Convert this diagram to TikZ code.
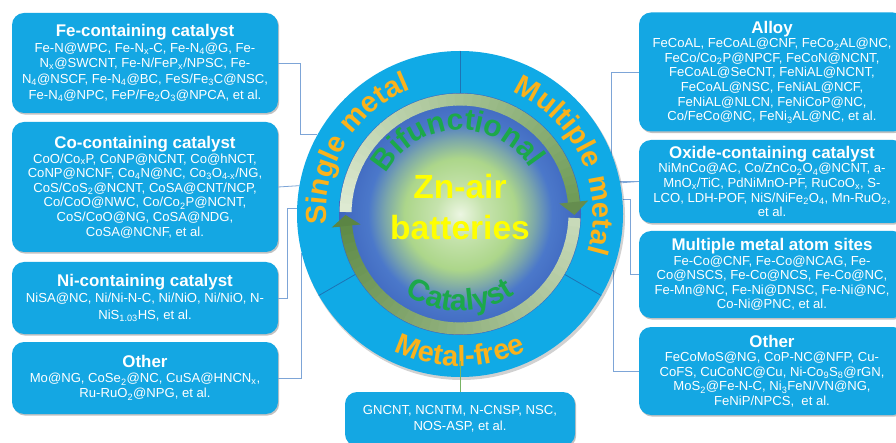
\documentclass[tikz,border=0pt]{standalone}
\usepackage{fontspec}
\setmainfont{Liberation Sans}
\usetikzlibrary{shadows,decorations.text,calc}
\definecolor{boxcyan}{RGB}{20,167,227}
\definecolor{ringcyan}{RGB}{16,170,230}
\definecolor{ringline}{RGB}{30,115,180}
\definecolor{connc}{RGB}{125,165,215}
\definecolor{ringorange}{RGB}{250,178,28}
\definecolor{txtgreen}{RGB}{28,168,74}
\definecolor{znyellow}{RGB}{255,255,0}
\definecolor{sphereblue}{RGB}{75,120,202}
\definecolor{sphereedge}{RGB}{62,102,190}
\definecolor{glowc}{RGB}{236,246,226}
\definecolor{glowm}{RGB}{172,214,138}
\colorlet{glowa}{glowm!60!glowc}
\colorlet{glowb}{glowm!50!sphereblue}
\definecolor{aglight}{RGB}{222,234,210}
\definecolor{agdark}{RGB}{112,156,88}
\definecolor{bglight}{RGB}{200,218,185}
\definecolor{bgdark}{RGB}{96,140,72}
\definecolor{bgreen}{RGB}{120,180,100}
\pgfdeclareradialshading{sphere}{\pgfpoint{0bp}{0bp}}{color(0bp)=(glowc); color(5bp)=(glowa); color(11.5bp)=(glowm); color(15.5bp)=(glowb); color(19bp)=(sphereblue); color(25bp)=(sphereedge); color(50bp)=(sphereedge)}
\newcommand\ttl[1]{{\fontsize{16.9}{16.9}\selectfont\bfseries #1}}
\newcommand\sub[1]{\textsubscript{#1}}
\newcommand\fmtorange{\fontsize{29}{29}\selectfont\bfseries\color{ringorange}}
\newcommand\fmtgreen{\fontsize{30}{30}\selectfont\bfseries\color{txtgreen}}
\newcommand\arctext[5]{\path[decorate,decoration={text along path,text align=center,text={|#4|#5}}] (#1:#3) arc[start angle=#1,end angle=#2,radius=#3];}
\tikzset{
  catbox/.style={rounded corners=12pt, fill=boxcyan, text=white, align=center, inner sep=0pt,
    minimum width=266pt, drop shadow={shadow xshift=1.2pt, shadow yshift=-1.6pt, opacity=0.4, fill=black!60},
    font=\fontsize{13.1}{14.6}\selectfont},
  connline/.style={draw=connc, line width=0.8pt},
  greenline/.style={draw=bgreen, line width=1pt},
}
\begin{document}
\begin{tikzpicture}[x=1pt,y=1pt]
\useasboundingbox (0,0) rectangle (896,-443);
\fill[white] (0,0) rectangle (896,-443);

% ---------- left boxes
\node[catbox, minimum height=100pt, font=\fontsize{13.1}{15.7}\selectfont] (fe) at (145,-63)
 {\ttl{Fe-containing catalyst}\\
  Fe-N@WPC, Fe-N\sub{x}-C, Fe-N\sub{4}@G, Fe-\\
  N\sub{x}@SWCNT, Fe-N/FeP\sub{x}/NPSC, Fe-\\
  N\sub{4}@NSCF, Fe-N\sub{4}@BC, FeS/Fe\sub{3}C@NSC,\\
  Fe-N\sub{4}@NPC, FeP/Fe\sub{2}O\sub{3}@NPCA, et al.};
\node[catbox, minimum height=130pt] (co) at (145,-187)
 {\ttl{Co-containing catalyst}\\
  CoO/Co\sub{x}P, CoNP@NCNT, Co@hNCT,\\
  CoNP@NCNF, Co\sub{4}N@NC, Co\sub{3}O\sub{4-x}/NG,\\
  CoS/CoS\sub{2}@NCNT, CoSA@CNT/NCP,\\
  Co/CoO@NWC, Co/Co\sub{2}P@NCNT,\\
  CoS/CoO@NG, CoSA@NDG,\\
  CoSA@NCNF, et al.};
\node[catbox, minimum height=72pt, font=\fontsize{13.1}{16.5}\selectfont] (ni) at (145,-298)
 {\ttl{Ni-containing catalyst}\\
  NiSA@NC, Ni/Ni-N-C, Ni/NiO, Ni/NiO, N-\\
  NiS\sub{1.03}HS, et al.};
\node[catbox, minimum height=72pt, font=\fontsize{13.1}{15}\selectfont] (otl) at (145,-378)
 {\ttl{Other}\\
  Mo@NG, CoSe\sub{2}@NC, CuSA@HNCN\sub{x},\\
  Ru-RuO\sub{2}@NPG, et al.};

% ---------- right boxes
\node[catbox, minimum height=119pt] (alloy) at (772,-72)
 {\ttl{Alloy}\\
  FeCoAL, FeCoAL@CNF, FeCo\sub{2}AL@NC,\\
  FeCo/Co\sub{2}P@NPCF, FeCoN@NCNT,\\
  FeCoAL@SeCNT, FeNiAL@NCNT,\\
  FeCoAL@NSC, FeNiAL@NCF,\\
  FeNiAL@NLCN, FeNiCoP@NC,\\
  Co/FeCo@NC, FeNi\sub{3}AL@NC, et al.};
\node[catbox, minimum height=83pt] (oxide) at (772,-181.5)
 {\ttl{Oxide-containing catalyst}\\
  NiMnCo@AC, Co/ZnCo\sub{2}O\sub{4}@NCNT, a-\\
  MnO\sub{x}/TiC, PdNiMnO-PF, RuCoO\sub{x}, S-\\
  LCO, LDH-POF, NiS/NiFe\sub{2}O\sub{4}, Mn-RuO\sub{2},\\
  et al.};
\node[catbox, minimum height=87pt] (ms) at (772,-274.5)
 {\ttl{Multiple metal atom sites}\\
  Fe-Co@CNF, Fe-Co@NCAG, Fe-\\
  Co@NSCS, Fe-Co@NCS, Fe-Co@NC,\\
  Fe-Mn@NC, Fe-Ni@DNSC, Fe-Ni@NC,\\
  Co-Ni@PNC, et al.};
\node[catbox, minimum height=88pt] (otr) at (772,-371)
 {\ttl{Other}\\
  FeCoMoS@NG, CoP-NC@NFP, Cu-\\
  CoFS, CuCoNC@Cu, Ni-Co\sub{9}S\sub{8}@rGN,\\
  MoS\sub{2}@Fe-N-C, Ni\sub{3}FeN/VN@NG,\\
  FeNiP/NPCS,\ \ et al.};

% ---------- bottom box
\node[catbox, minimum width=230pt, minimum height=54pt, font=\fontsize{13.1}{16}\selectfont] (mf) at (460,-419)
 {GNCNT, NCNTM, N-CNSP, NSC,\\NOS-ASP, et al.};

% ---------- ring outline (for connector anchors)
\node[circle, inner sep=0pt, minimum size=326pt] (ring) at (460,-214) {};

% ---------- connectors (drawn under the ring)
\draw[connline] (fe.east) -- ++(22pt,0) |- (ring.151.8);
\draw[connline] (co.east) -- (ring.170.5);
\draw[connline] (ni.east) -- ++(9pt,0) |- (ring.178.6);
\draw[connline] (otl.east) -| (ring.194.2);
\draw[connline] (alloy.west) -- ++(-27pt,0) |- (oxide.west);
\draw[connline] (ring.11.5) -- (oxide.west);
\draw[connline] (ms.west) -- ++(-8pt,0) |- (ring.5.6);
\draw[connline] (otr.west) -| (ring.-20.2);

% ---------- central circle
\begin{scope}[shift={(460,-214)}]
  \fill[black, opacity=0.18] (1.5pt,-2.5pt) circle[radius=163.5pt];
  \fill[ringcyan] (0,0) circle[radius=163pt];
  \shade[shading=sphere] (0,0) circle[radius=121pt];
  \foreach \a in {90,210,330}
    \draw[ringline, line width=0.8pt] (\a:121pt) -- (\a:163pt);
  % upper arrow (left -> right)
  \foreach \i in {0,...,39}{
    \pgfmathsetmacro\aa{179-\i*4.325}
    \pgfmathsetmacro\ab{\aa-4.7}
    \pgfmathsetmacro\pc{\i*100/39}
    \draw[line width=12pt, color=agdark!\pc!aglight] (\aa:114.5pt) arc[start angle=\aa, end angle=\ab, radius=114.5pt];
  }
  \fill[agdark!90!black] (6:100pt) -- (6:129pt) -- (-0.5:114.5pt) -- cycle;
  % lower arrow (right -> left)
  \foreach \i in {0,...,39}{
    \pgfmathsetmacro\aa{-2-\i*4.3}
    \pgfmathsetmacro\ab{\aa-4.7}
    \pgfmathsetmacro\pc{\i*100/39}
    \draw[line width=12pt, color=bgdark!\pc!bglight] (\aa:114.5pt) arc[start angle=\aa, end angle=\ab, radius=114.5pt];
  }
  \fill[bgdark!95!black] (186:100pt) -- (186:129pt) -- (180.5:114.5pt) -- cycle;

  % ring labels
  \arctext{200}{96}{134pt}{\fmtorange}{Single metal}
  \arctext{80}{-30}{133pt}{\fmtorange}{Multiple metal}
  \arctext{225}{315}{152pt}{\fmtorange}{Metal-free}

  % inner labels
  \arctext{170}{14}{84pt}{\fmtgreen}{Bifunctional}
  \arctext{215}{325}{97pt}{\fmtgreen}{Catalyst}

  \node[anchor=base, text=znyellow, font=\fontsize{33.5}{33.5}\selectfont\bfseries] (zn) at (0,15) {Zn-air};
  \node[anchor=base, text=znyellow, font=\fontsize{33.5}{33.5}\selectfont\bfseries] (bat) at (0,-26) {batteries};
  \coordinate (mftop) at (0,-147);
\end{scope}
\draw[greenline] (mftop) -- (mf.north);
\end{tikzpicture}
\end{document}
